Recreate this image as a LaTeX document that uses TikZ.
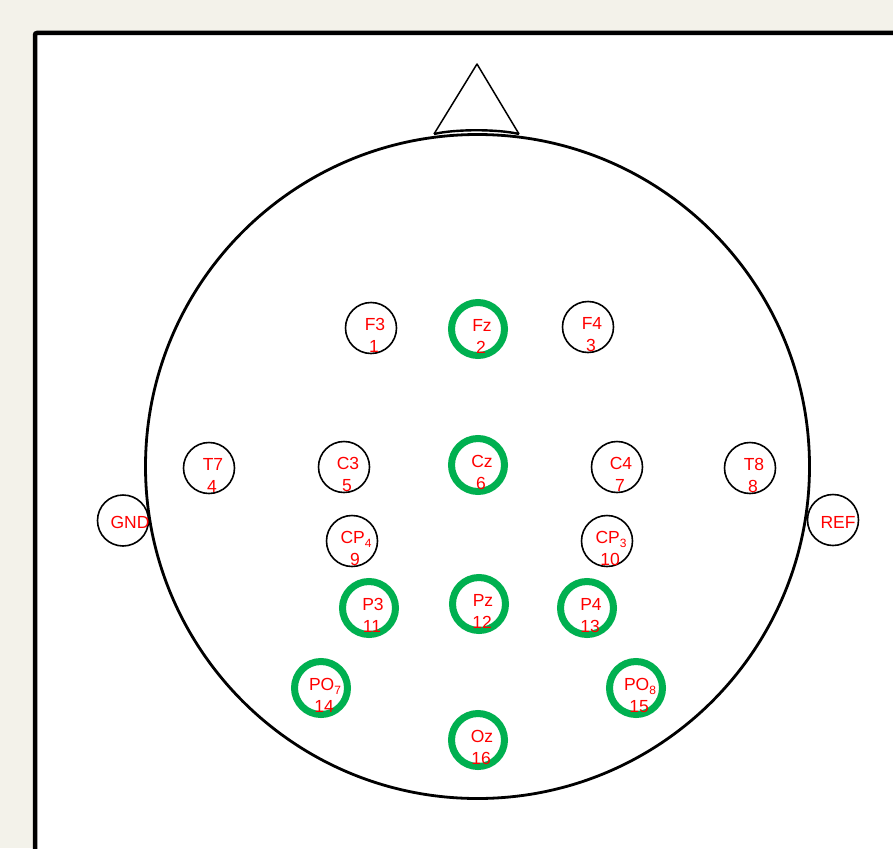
\documentclass[tikz,border=0pt]{standalone}
\usepackage{fontspec}
\setmainfont{Liberation Sans}
\definecolor{pagebg}{RGB}{243,242,234}
\definecolor{actgreen}{RGB}{0,176,80}
\definecolor{lblred}{RGB}{255,0,0}
% lowered small digit used in electrode names such as CP4
\newcommand\lowdigit[1]{\raisebox{-3.5pt}{\fontsize{12}{12}\selectfont #1}}
% electrode: node name, x, y, ring style, label, channel number
\newcommand\electrode[6]{%
  \node[#4] (#1) at (#2,#3) {};
  \node[lbl] (#1-name) at (#2+4,#3+2.5) {#5};
  \node[lbl] (#1-num) at (#2+3,#3+24.5) {#6};
}
\tikzset{
  headline/.style={draw=black, line width=2.8pt},
  noseline/.style={draw=black, line width=1.5pt, line join=round},
  pad/.style={circle, draw=black, line width=1.6pt, minimum size=51pt, inner sep=0pt},
  active/.style={circle, draw=actgreen, line width=7pt, minimum size=53pt, inner sep=0pt},
  lbl/.style={text=lblred, font=\fontsize{17.5}{17.5}\selectfont, inner sep=0pt, anchor=base},
}
\begin{document}
\begin{tikzpicture}[x=1pt, y=-1pt]
  \useasboundingbox (0,0) rectangle (893,848);
  \clip (0,0) rectangle (893,848);
  % page and panel frame
  \fill[pagebg] (0,0) rectangle (893,848);
  \draw[line width=4.5pt, fill=white, rounded corners=2pt] (35,33) rectangle (920,880);

  % head outline and nose
  \draw[headline] (477.5,466.5) circle[radius=332];
  \draw[noseline] (434,134) -- (477,64) -- (519,134);
  \draw[noseline, line width=2.4pt] (434,134) .. controls (455,129) and (498,129) .. (519,134);

  % ground and reference electrodes
  \node[pad] (GND) at (123,520.5) {};
  \node[lbl] (GND-name) at (130,528.5) {GND};
  \node[pad] (REF) at (833,520) {};
  \node[lbl] (REF-name) at (838,528.5) {REF};

  % recording electrodes
  \electrode{F3}{371}{328}{pad}{F3}{1}
  \electrode{Fz}{478}{329}{active}{Fz}{2}
  \electrode{F4}{588}{327}{pad}{F4}{3}
  \electrode{T7}{209}{468}{pad}{T7}{4}
  \electrode{C3}{344}{467}{pad}{C3}{5}
  \electrode{Cz}{478}{465}{active}{Cz}{6}
  \electrode{C4}{617}{467}{pad}{C4}{7}
  \electrode{T8}{750}{468}{pad}{T8}{8}
  \electrode{CP4}{352}{541}{pad}{CP\lowdigit{4}}{9}
  \electrode{CP3}{607}{541}{pad}{CP\lowdigit{3}}{10}
  \electrode{P3}{369}{608}{active}{P3}{11}
  \electrode{Pz}{479}{604}{active}{Pz}{12}
  \electrode{P4}{587}{608}{active}{P4}{13}
  \electrode{PO7}{321}{688}{active}{PO\lowdigit{7}}{14}
  \electrode{PO8}{636}{688}{active}{PO\lowdigit{8}}{15}
  \electrode{Oz}{478}{740}{active}{Oz}{16}
\end{tikzpicture}
\end{document}
